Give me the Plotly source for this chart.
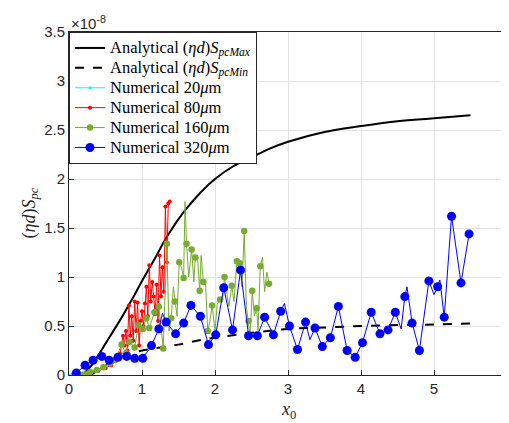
import plotly.graph_objects as go

# ---------------- data (values in units of 1e-8) ----------------
max_x = [0.1, 0.2, 0.3, 0.4, 0.5, 0.6, 0.7, 0.8, 0.9, 1.0, 1.1, 1.2, 1.3, 1.4, 1.5,
         1.6, 1.8, 2.0, 2.25, 2.5, 2.75, 3.0, 3.5, 4.0, 4.5, 5.0, 5.5]
max_y = [0.0, 0.02, 0.09, 0.2, 0.32, 0.44, 0.56, 0.69, 0.82, 0.96, 1.09, 1.22, 1.36,
         1.48, 1.59, 1.69, 1.86, 2.0, 2.13, 2.22, 2.31, 2.38, 2.48, 2.54, 2.59, 2.62, 2.65]

min_x = [0.3, 0.5, 0.75, 1.0, 1.25, 1.5, 1.75, 2.0, 2.5, 3.0, 3.5, 4.0, 4.5, 5.0, 5.5]
min_y = [0.0, 0.1, 0.2, 0.25, 0.28, 0.31, 0.35, 0.38, 0.43, 0.47, 0.485, 0.5, 0.51, 0.515, 0.525]

n20_x = [0.02, 0.05, 0.08, 0.11]
n20_y = [0.0, 0.0, 0.01, 0.01]

n80_x = [0.10, 0.20, 0.30, 0.40, 0.50, 0.58, 0.65, 0.70, 0.74, 0.76, 0.78, 0.80, 0.82,
         0.84, 0.86, 0.88, 0.90, 0.92, 0.94, 0.96, 0.98, 1.00, 1.02, 1.04, 1.06, 1.08,
         1.10, 1.12, 1.14, 1.16, 1.18, 1.20, 1.22, 1.24, 1.26, 1.28, 1.30, 1.32, 1.34,
         1.36, 1.38]
n80_y = [0.00, 0.01, 0.02, 0.04, 0.07, 0.10, 0.15, 0.22, 0.40, 0.30, 0.45, 0.25, 0.71,
         0.40, 0.60, 0.35, 0.75, 0.45, 0.74, 0.30, 0.55, 0.65, 0.50, 0.73, 0.90, 0.60,
         1.12, 0.75, 0.95, 0.80, 0.62, 0.92, 0.55, 1.22, 0.80, 1.10, 0.85, 1.72, 1.15,
         1.75, 1.77]

# 160 um: all line points, and which ones carry a marker (1) or not (0)
n160_x = [0.07, 0.15, 0.22, 0.29, 0.38, 0.47, 0.56, 0.63, 0.72, 0.78, 0.83, 0.90, 0.95,
          1.01, 1.06, 1.10, 1.17, 1.23, 1.29, 1.34, 1.37, 1.40, 1.43, 1.45, 1.48, 1.51,
          1.54, 1.57, 1.59, 1.61, 1.64, 1.68, 1.71, 1.73, 1.76, 1.79, 1.81, 1.84, 1.87,
          1.90, 1.93, 1.96, 2.00, 2.03, 2.07, 2.10, 2.13, 2.16, 2.19, 2.23, 2.26, 2.30,
          2.34, 2.37, 2.40, 2.43, 2.46, 2.48, 2.51, 2.54, 2.57, 2.59, 2.62, 2.65, 2.68,
          2.71, 2.74]
n160_y = [0.00, 0.00, 0.01, 0.03, 0.05, 0.08, 0.12, 0.15, 0.31, 0.22, 0.34, 0.28, 0.51,
          0.47, 0.58, 0.48, 0.64, 0.70, 0.27, 1.34, 0.45, 0.58, 0.90, 0.75, 0.60, 1.15,
          1.10, 0.99, 1.77, 1.34, 1.00, 1.28, 0.95, 1.20, 1.22, 0.86, 1.22, 0.95, 0.95,
          0.45, 0.55, 0.71, 0.45, 0.72, 0.77, 0.75, 1.00, 0.85, 0.70, 0.91, 0.75, 1.16,
          1.14, 0.90, 1.47, 0.70, 0.55, 0.40, 0.86, 0.60, 0.68, 0.45, 1.11, 1.20, 0.85,
          1.05, 0.93]
n160_mark = [1, 1, 1, 1, 1, 1, 1, 1, 1, 1, 1, 1, 1,
             1, 1, 1, 1, 1, 1, 1, 0, 1, 0, 1, 0, 1,
             0, 1, 0, 1, 0, 1, 0, 1, 0, 1, 0, 1, 0,
             1, 0, 1, 0, 0, 1, 0, 1, 0, 0, 1, 0, 1,
             1, 0, 1, 0, 1, 0, 1, 0, 1, 0, 1, 0, 0,
             0, 1]

n320_x = [0.10, 0.22, 0.33, 0.45, 0.55, 0.67, 0.79, 0.90, 1.01, 1.13, 1.23, 1.28, 1.33,
          1.46, 1.57, 1.67, 1.80, 1.91, 2.01, 2.12, 2.24, 2.35, 2.46, 2.58, 2.68, 2.80,
          2.90, 2.95, 3.02, 3.13, 3.24, 3.30, 3.37, 3.47, 3.58, 3.69, 3.81, 3.92, 4.02,
          4.14, 4.26, 4.37, 4.47, 4.55, 4.60, 4.63, 4.70, 4.80, 4.93, 5.00, 5.05, 5.08,
          5.14, 5.24, 5.37, 5.48]
n320_y = [0.02, 0.10, 0.15, 0.19, 0.15, 0.18, 0.19, 0.17, 0.17, 0.30, 0.47, 0.63, 0.54,
          0.42, 0.53, 0.71, 0.60, 0.31, 0.41, 0.89, 0.46, 1.07, 0.40, 0.40, 0.59, 0.41,
          0.65, 0.73, 0.50, 0.26, 0.54, 0.36, 0.48, 0.29, 0.38, 0.70, 0.25, 0.18, 0.33,
          0.64, 0.42, 0.46, 0.64, 0.47, 0.80, 0.90, 0.53, 0.25, 0.96, 0.82, 0.90, 0.97,
          0.59, 1.62, 0.94, 1.44]
n320_mark = [1, 1, 1, 1, 1, 1, 1, 1, 1, 1, 1, 0, 1,
             1, 1, 1, 1, 1, 1, 1, 1, 1, 1, 1, 1, 1,
             1, 0, 1, 1, 1, 0, 1, 1, 1, 1, 1, 1, 1,
             1, 1, 1, 1, 0, 1, 0, 1, 1, 1, 0, 1, 0,
             1, 1, 1, 1]

x_ticks = [0, 1, 2, 3, 4, 5, 6]
y_ticks = [0, 0.5, 1, 1.5, 2, 2.5, 3, 3.5]

# ---------------- styling ----------------
SERIF = "Liberation Serif, Times New Roman, serif"
SANS = "Liberation Sans, Arial, sans-serif"
BLUE = "#0000ff"
GREEN = "#77ac30"
RED = "#ff0000"
CYAN = "#00ffff"
INK = "#262626"


def big(s):
    return '<span style="font-size:16.5px">' + s + '</span>'


fig = go.Figure()

fig.add_trace(go.Scatter(x=max_x, y=max_y, mode="lines", line=dict(color="black", width=2, shape="spline"),
                         name=big("Analytical (<i>ηd</i>)<i>S</i><sub><i>pcMax</i></sub>")))
fig.add_trace(go.Scatter(x=min_x, y=min_y, mode="lines",
                         line=dict(color="black", width=2, dash="dash", shape="spline"),
                         name=big("Analytical (<i>ηd</i>)<i>S</i><sub><i>pcMin</i></sub>")))


def add_series(xs, ys, marks, color, msize, label):
    # legend entry
    fig.add_trace(go.Scatter(x=[None], y=[None], mode="lines+markers", name=big(label),
                             line=dict(color=color, width=1),
                             marker=dict(color=color, size=msize)))
    fig.add_trace(go.Scatter(x=xs, y=ys, mode="lines", showlegend=False,
                             line=dict(color=color, width=1), hoverinfo="skip"))
    mx = [x for x, m in zip(xs, marks) if m]
    my = [y for y, m in zip(ys, marks) if m]
    fig.add_trace(go.Scatter(x=mx, y=my, mode="markers", showlegend=False,
                             marker=dict(color=color, size=msize)))


add_series(n20_x, n20_y, [1] * len(n20_x), CYAN, 3, "Numerical 20<i>μ</i>m")
add_series(n80_x, n80_y, [1] * len(n80_x), RED, 4, "Numerical 80<i>μ</i>m")
add_series(n160_x, n160_y, n160_mark, GREEN, 6.5, "Numerical 160<i>μ</i>m")
add_series(n320_x, n320_y, n320_mark, BLUE, 9, "Numerical 320<i>μ</i>m")

axis_common = dict(showline=True, mirror=True, linecolor=INK, linewidth=1,
                   ticks="inside", ticklen=5, tickcolor=INK, automargin=False,
                   ticklabeloverflow="allow",
                   showgrid=True, gridcolor="#e3e3e3", gridwidth=1, zeroline=False,
                   tickfont=dict(family=SANS, size=15, color=INK))

fig.update_xaxes(range=[0, 6], tickvals=x_ticks, ticktext=[str(t) for t in x_ticks], **axis_common)
fig.update_yaxes(range=[0, 3.5], tickvals=y_ticks, ticktext=[f"{t:g}" for t in y_ticks], **axis_common)

# axis titles
fig.add_annotation(x=0.5, y=0, xref="paper", yref="paper", xanchor="center", yanchor="middle",
                   text="<i>x</i><sub>0</sub>", showarrow=False, yshift=-35,
                   font=dict(family=SERIF, size=18, color=INK))
fig.add_annotation(x=0, y=0.5, xref="paper", yref="paper", xanchor="center", yanchor="middle",
                   text="(<i>ηd</i>)<i>S</i><sub><i>pc</i></sub>", showarrow=False,
                   textangle=-90, xshift=-39, yshift=-10,
                   font=dict(family=SERIF, size=18, color=INK))
# exponent label
fig.add_annotation(x=0, y=1, xref="paper", yref="paper", xanchor="left", yanchor="bottom",
                   text="×10<sup>-8</sup>", showarrow=False, xshift=0, yshift=-2,
                   font=dict(family=SANS, size=15, color=INK))

# the page body has an 8px margin, so the figure is 8px smaller than the window
fig.update_layout(
    width=501, height=415,
    margin=dict(l=61, r=2, t=24, b=48),
    paper_bgcolor="white", plot_bgcolor="white",
    showlegend=True,
    legend=dict(x=0, y=1, xanchor="left", yanchor="top", bgcolor="white",
                bordercolor=INK, borderwidth=1,
                font=dict(family=SERIF, size=13, color="#000000"),
                tracegroupgap=0, itemwidth=30),
)

fig.write_html("out.html")
